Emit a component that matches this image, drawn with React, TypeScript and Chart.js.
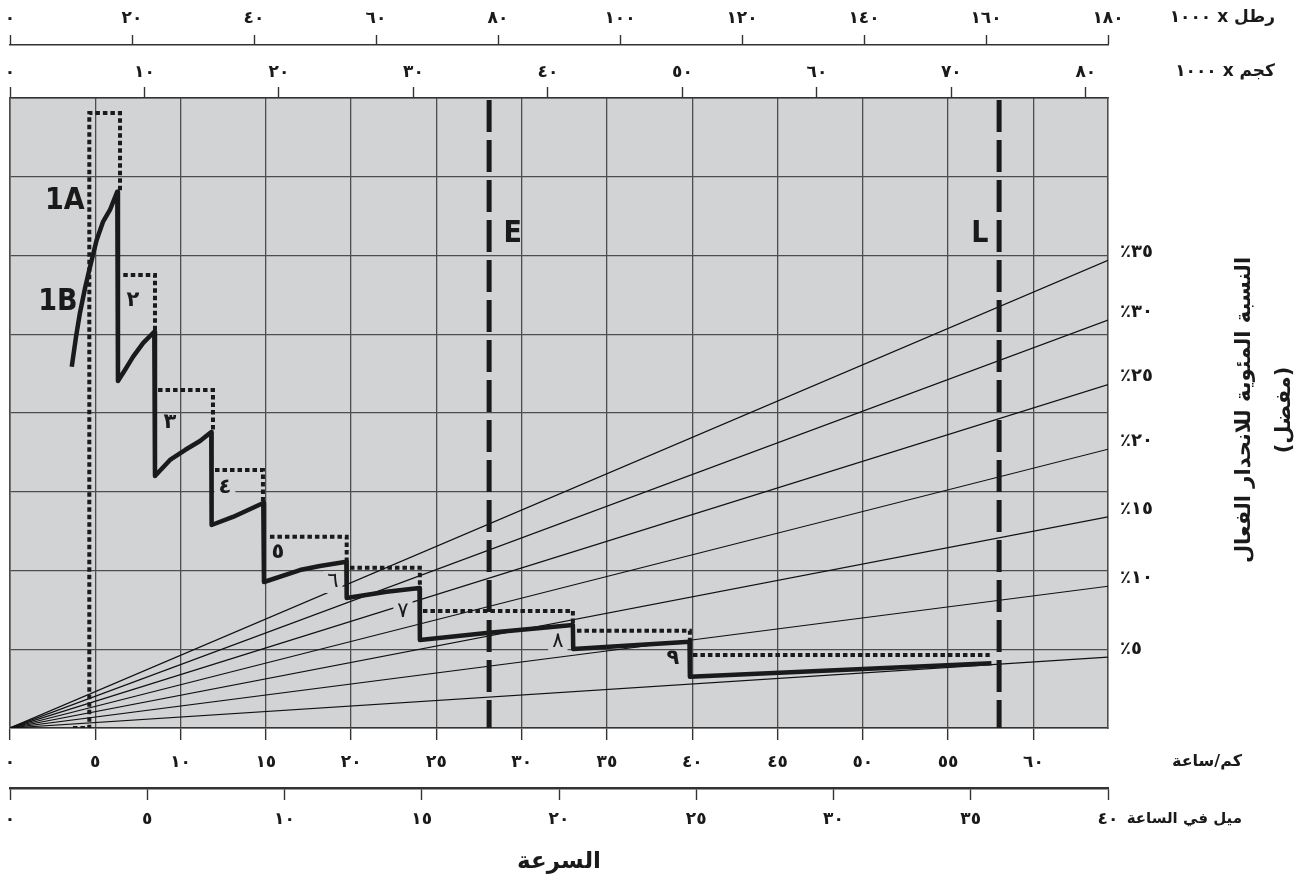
import React, { useEffect, useRef } from 'react';
import { Chart, registerables } from 'chart.js';

Chart.register(...registerables);

// ---------- axis ranges ----------
const LB_MAX = 180;                       // gross weight, lb x 1000
const KG_MAX = LB_MAX * 0.45359237;       // gross weight, kg x 1000
const MPH_MAX = 40;
const KMH_MAX = MPH_MAX * 1.609344;
const RIMPULL_MAX = 40;                   // unlabeled rimpull axis
const RIMPULL_STEP = 5;

// ---------- tick values and labels ----------
const kmhTicks = [0, 5, 10, 15, 20, 25, 30, 35, 40, 45, 50, 55, 60];
const kmhLabels = ['٠', '٥', '١٠', '١٥', '٢٠', '٢٥', '٣٠', '٣٥', '٤٠', '٤٥', '٥٠', '٥٥', '٦٠'];
const mphTicks = [0, 5, 10, 15, 20, 25, 30, 35, 40];
const mphLabels = ['٠', '٥', '١٠', '١٥', '٢٠', '٢٥', '٣٠', '٣٥', '٤٠'];
const lbTicks = [0, 20, 40, 60, 80, 100, 120, 140, 160, 180];
const lbLabels = ['٠', '٢٠', '٤٠', '٦٠', '٨٠', '١٠٠', '١٢٠', '١٤٠', '١٦٠', '١٨٠'];
const kgTicks = [0, 10, 20, 30, 40, 50, 60, 70, 80];
const kgLabels = ['٠', '١٠', '٢٠', '٣٠', '٤٠', '٥٠', '٦٠', '٧٠', '٨٠'];

// ---------- effective grade lines ----------
const gradePercents = [35, 30, 25, 20, 15, 10, 5];
const gradeLabels = ['٪٣٥', '٪٣٠', '٪٢٥', '٪٢٠', '٪١٥', '٪١٠', '٪٥'];
const gradeRimpullAtMaxWeight = [29.7, 25.9, 21.8, 17.7, 13.4, 9.0, 4.5];

// ---------- rimpull curve (solid) ----------
const rimpullSpeed = [
  3.62, 3.87, 4.10, 4.40, 4.69, 5.08, 5.45, 5.86, 6.29,
  6.33, 6.74, 7.21, 7.80, 8.46,
  8.50, 9.38, 10.26, 11.14, 11.80,
  11.82, 13.07, 14.85,
  14.89, 17.00, 18.17, 19.72,
  19.74, 22.08, 24.01,
  24.03, 27.94, 33.00,
  33.02, 39.84,
  39.86, 57.54,
];
const rimpullValue = [
  22.94, 24.83, 26.35, 27.94, 29.27, 30.98, 32.13, 32.89, 34.05,
  22.03, 22.73, 23.56, 24.44, 25.16,
  16.00, 17.02, 17.65, 18.22, 18.79,
  12.89, 13.40, 14.29,
  9.27, 10.03, 10.29, 10.56,
  8.25, 8.65, 8.89,
  5.59, 6.03, 6.54,
  5.02, 5.48,
  3.26, 4.11,
];

// ---------- dotted curve (null = break) ----------
const dottedSpeed = [
  3.69, 4.65, 4.65, 6.45, 6.45, 6.45,
  6.64, 8.50, 8.50, 8.50,
  8.68, 11.90, 11.90, 11.90,
  12.02, 14.83, 14.83, 14.83,
  15.24, 19.74, 19.74, 19.74,
  19.93, 24.03, 24.03, 24.03,
  24.21, 33.00, 33.00, 33.00,
  33.24, 39.86, 39.86, 39.86,
  40.04, 57.44,
];
const dottedValue: (number | null)[] = [
  0, 0, 39.05, 39.05, 34.0, null,
  28.76, 28.76, 25.2, null,
  21.46, 21.46, 18.8, null,
  16.38, 16.38, 14.3, null,
  12.15, 12.15, 10.56, null,
  10.18, 10.18, 8.89, null,
  7.43, 7.43, 6.54, null,
  6.18, 6.18, 5.48, null,
  4.63, 4.63,
];

// ---------- marker lines ----------
const eSpeed = 28.09;
const lSpeed = 57.99;

// ---------- curve annotations ----------
const annotationTexts = ['1A', '1B', 'E', 'L', '٢', '٣', '٤', '٥', '٦', '٧', '٨', '٩'];
const annotationSpeed = [3.22, 2.81, 29.48, 56.86, 7.21, 9.38, 12.6, 15.71, 18.93, 23.04, 32.12, 38.86];
const annotationRimpull = [33.46, 27.05, 31.37, 31.37, 27.17, 19.37, 15.24, 11.11, 9.27, 7.37, 5.46, 4.44];

// ---------- styles ----------
const PLOT_BG = '#d1d3d4';
const GRID = '#4d4d4d';
const AXIS = '#333333';
const INK = '#1a1a1a';
const AR_FONT = "'DejaVu Sans', sans-serif";
const LATIN_FONT = "'Liberation Sans Narrow', 'DejaVu Sans Condensed', 'Open Sans', sans-serif";
const annotationStyle: Record<string, { font: string; knockout: boolean }> = {
  '1A': { font: `bold 30px ${LATIN_FONT}`, knockout: false },
  '1B': { font: `bold 30px ${LATIN_FONT}`, knockout: false },
  E: { font: `bold 30px ${LATIN_FONT}`, knockout: false },
  L: { font: `bold 30px ${LATIN_FONT}`, knockout: false },
  '٤': { font: `bold 21px ${AR_FONT}`, knockout: true },
  '٦': { font: `21px ${AR_FONT}`, knockout: true },
  '٧': { font: `21px ${AR_FONT}`, knockout: true },
  '٨': { font: `21px ${AR_FONT}`, knockout: true },
};

const tickFont = { family: AR_FONT, size: 17, weight: 'bold' as const };

const plotBackground = {
  id: 'plotBackground',
  beforeDraw(chart: any) {
    const { ctx, chartArea } = chart;
    ctx.save();
    ctx.fillStyle = PLOT_BG;
    ctx.fillRect(chartArea.left, chartArea.top, chartArea.right - chartArea.left, chartArea.bottom - chartArea.top);
    ctx.restore();
  },
};

const annotationPlugin = {
  id: 'annotations',
  afterDatasetsDraw(chart: any) {
    const { ctx } = chart;
    const xs = chart.scales.x;
    const ys = chart.scales.y;
    ctx.save();
    annotationTexts.forEach((t, i) => {
      const style = annotationStyle[t] || { font: `bold 21px ${AR_FONT}`, knockout: false };
      const px = xs.getPixelForValue(annotationSpeed[i]);
      const py = ys.getPixelForValue(annotationRimpull[i]);
      ctx.font = style.font;
      ctx.textAlign = 'center';
      ctx.textBaseline = 'middle';
      if (style.knockout) {
        const w = ctx.measureText(t).width;
        ctx.fillStyle = PLOT_BG;
        ctx.fillRect(px - w / 2 - 4, py - 11, w + 8, 22);
      }
      ctx.fillStyle = INK;
      ctx.fillText(t, px, py);
    });
    ctx.restore();
  },
  afterDraw(chart: any) {
    const { ctx, chartArea } = chart;
    ctx.save();
    ctx.fillStyle = INK;
    ctx.textBaseline = 'middle';
    ctx.textAlign = 'right';
    ctx.direction = 'rtl';
    const r = chartArea.right;
    ctx.font = `bold 17px ${AR_FONT}`;
    ctx.fillText('رطل x ١٠٠٠', r + 167, chart.scales.xLb.bottom - 27);
    ctx.fillText('كجم x ١٠٠٠', r + 167, chart.scales.xKg.bottom - 26);
    ctx.font = `bold 16px ${AR_FONT}`;
    ctx.fillText('كم/ساعة', r + 134, chart.scales.x.top + 34);
    ctx.font = `bold 15px ${AR_FONT}`;
    ctx.fillText('ميل في الساعة', r + 134, chart.scales.xMph.top + 31);

    // right-hand title (rotated, reading upward)
    const cy = (chartArea.top + chartArea.bottom) / 2 - 3;
    ctx.textAlign = 'center';
    ctx.font = `bold 21px ${AR_FONT}`;
    ctx.save();
    ctx.translate(r + 137, cy);
    ctx.rotate(-Math.PI / 2);
    ctx.fillText('النسبة المئوية للانحدار الفعال', 0, 0);
    ctx.restore();
    ctx.save();
    ctx.translate(r + 177, cy);
    ctx.rotate(-Math.PI / 2);
    ctx.fillText('(مفضل)', 0, 0);
    ctx.restore();
    ctx.restore();
  },
};

const fitX = (h: number) => (s: any) => {
  s.height = h;
  s.paddingLeft = 0;
  s.paddingRight = 0;
};

function buildConfig(): any {
  const gradeSets = gradePercents.map((g, i) => ({
    label: `grade ${g}%`,
    data: [{ x: 0, y: 0 }, { x: KG_MAX, y: gradeRimpullAtMaxWeight[i] }],
    xAxisID: 'xKg',
    yAxisID: 'y',
    borderColor: '#111111',
    borderWidth: 1.2,
    pointRadius: 0,
    order: 10,
  }));
  const marker = (label: string, s: number) => ({
    label,
    data: [{ x: s, y: RIMPULL_MAX }, { x: s, y: 0 }],
    xAxisID: 'x',
    yAxisID: 'y',
    borderColor: INK,
    borderWidth: 5,
    borderDash: [32, 8],
    borderDashOffset: -2,
    borderCapStyle: 'butt',
    pointRadius: 0,
    order: 5,
  });
  return {
    type: 'line',
    data: {
      datasets: [
        ...gradeSets,
        marker('E', eSpeed),
        marker('L', lSpeed),
        {
          label: 'dotted',
          data: dottedSpeed.map((s, i) => ({ x: s, y: dottedValue[i] })),
          xAxisID: 'x',
          yAxisID: 'y',
          borderColor: INK,
          borderWidth: 4,
          borderDash: [4.5, 3],
          borderJoinStyle: 'miter',
          spanGaps: false,
          pointRadius: 0,
          order: 2,
        },
        {
          label: 'rimpull',
          data: rimpullSpeed.map((s, i) => ({ x: s, y: rimpullValue[i] })),
          xAxisID: 'x',
          yAxisID: 'y',
          borderColor: INK,
          borderWidth: 4.5,
          borderJoinStyle: 'round',
          pointRadius: 0,
          order: 1,
        },
      ],
    },
    options: {
      responsive: false,
      animation: false,
      events: [],
      layout: { padding: { left: 10, right: 0, top: 0, bottom: 0 } },
      plugins: { legend: { display: false }, tooltip: { enabled: false } },
      scales: {
        x: {
          type: 'linear',
          position: 'bottom',
          min: 0,
          max: KMH_MAX,
          weight: 0,
          afterBuildTicks: (s: any) => { s.ticks = kmhTicks.map((v) => ({ value: v })); },
          afterFit: fitX(60),
          ticks: { autoSkip: false, maxRotation: 0, padding: 12, color: INK, font: tickFont, callback: (_v: any, i: number) => kmhLabels[i] },
          grid: { drawOnChartArea: true, color: GRID, lineWidth: 1.3, tickLength: 12, tickColor: AXIS, tickWidth: 1.4 },
          border: { display: true, color: AXIS, width: 1.6 },
        },
        xMph: {
          type: 'linear',
          position: 'bottom',
          min: 0,
          max: MPH_MAX,
          weight: 1,
          afterBuildTicks: (s: any) => { s.ticks = mphTicks.map((v) => ({ value: v })); },
          afterFit: fitX(94),
          ticks: { autoSkip: false, maxRotation: 0, padding: 9, color: INK, font: tickFont, callback: (_v: any, i: number) => mphLabels[i] },
          grid: { drawOnChartArea: false, tickLength: 12, color: AXIS, tickColor: AXIS, tickWidth: 1.4 },
          border: { display: true, color: AXIS, width: 2.4 },
          title: { display: true, text: 'السرعة', color: INK, font: { family: AR_FONT, size: 23, weight: 'bold' }, padding: { top: 0, bottom: 6 } },
        },
        xKg: {
          type: 'linear',
          position: 'top',
          min: 0,
          max: KG_MAX,
          weight: 0,
          afterBuildTicks: (s: any) => { s.ticks = kgTicks.map((v) => ({ value: v })); },
          afterFit: fitX(53),
          ticks: { autoSkip: false, maxRotation: 0, padding: 4.5, color: INK, font: tickFont, callback: (_v: any, i: number) => kgLabels[i] },
          grid: { drawOnChartArea: false, tickLength: 11, color: AXIS, tickColor: AXIS, tickWidth: 1.4 },
          border: { display: true, color: AXIS, width: 1.6 },
        },
        xLb: {
          type: 'linear',
          position: 'top',
          min: 0,
          max: LB_MAX,
          weight: 1,
          afterBuildTicks: (s: any) => { s.ticks = lbTicks.map((v) => ({ value: v })); },
          afterFit: fitX(45),
          ticks: { autoSkip: false, maxRotation: 0, padding: 6, color: INK, font: tickFont, callback: (_v: any, i: number) => lbLabels[i] },
          grid: { drawOnChartArea: false, tickLength: 10, color: AXIS, tickColor: AXIS, tickWidth: 1.4 },
          border: { display: true, color: AXIS, width: 1.6 },
        },
        y: {
          type: 'linear',
          position: 'left',
          min: 0,
          max: RIMPULL_MAX,
          afterFit: (s: any) => { s.width = 0; },
          ticks: { display: false, stepSize: RIMPULL_STEP },
          grid: { color: GRID, lineWidth: 1.3, drawTicks: false },
          border: { display: true, color: GRID, width: 1.6 },
        },
        yPct: {
          type: 'linear',
          position: 'right',
          min: 0,
          max: RIMPULL_MAX,
          afterBuildTicks: (s: any) => { s.ticks = gradeRimpullAtMaxWeight.map((v) => ({ value: v })); },
          afterFit: (s: any) => { s.width = 206; },
          ticks: { autoSkip: false, padding: 12, labelOffset: -8, color: INK, font: { family: AR_FONT, size: 18, weight: 'bold' }, callback: (_v: any, i: number) => gradeLabels[i] },
          grid: { display: false, drawTicks: false },
          border: { display: true, color: GRID, width: 1.6 },
        },
      },
    },
    plugins: [plotBackground, annotationPlugin],
  };
}

export default function App() {
  const ref = useRef<HTMLCanvasElement>(null);
  useEffect(() => {
    document.body.style.margin = '0';
    const chart = new Chart(ref.current as HTMLCanvasElement, buildConfig());
    return () => chart.destroy();
  }, []);
  return (
    <div style={{ width: 1314, height: 882 }}>
      <canvas ref={ref} width={1314} height={882} style={{ display: 'block', width: 1314, height: 882 }} />
    </div>
  );
}
